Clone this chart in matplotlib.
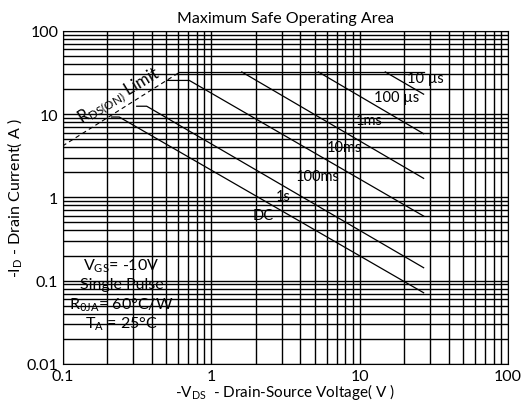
import numpy as np
import matplotlib
matplotlib.use('Agg')
import matplotlib.pyplot as plt

plt.rcParams['font.family'] = ['Lato', 'DejaVu Sans']
plt.rcParams['mathtext.fontset'] = 'custom'
plt.rcParams['mathtext.rm'] = 'Lato'
plt.rcParams['mathtext.it'] = 'Lato:italic'

# SOA curves (V_DS in V, I_D in A)
rds_v = [0.1, 0.612]
rds_i = [4.13, 31.6]

top_v = [0.612, 27]                 # package current limit
top_i = [32, 32]

v_10us = [14.9, 27]
i_10us = [32, 17.3]
v_100us = [5.28, 27]
i_100us = [32, 5.8]
v_1ms = [1.61, 27]
i_1ms = [32, 1.69]
v_10ms = [0.503, 0.714, 27]
i_10ms = [25.3, 25.3, 0.596]
v_100ms = [0.316, 0.369, 27]
i_100ms = [12.4, 12.4, 0.143]
v_dc = [0.214, 0.241, 27]
i_dc = [9.2, 9.2, 0.0716]

curve_labels = ['10 µs', '100 µs', '1ms', '10ms', '100ms', '1s', 'DC']
label_v = [20.8, 12.5, 9.47, 6.01, 3.72, 2.74, 1.91]
label_i = [27.3, 16.0, 8.4, 4.0, 1.80, 1.04, 0.613]

cond_text = [r'V$_{\mathregular{GS}}$= -10V', 'Single Pulse',
             r'R$_{\mathregular{\theta JA}}$= 60°C/W', r'T$_{\mathregular{A}}$ = 25°C']
cond_i = [0.151, 0.0918, 0.0518, 0.0304]

x_ticks = [0.1, 1, 10, 100]
x_labels = ['0.1', '1', '10', '100']
y_ticks = [0.01, 0.1, 1, 10, 100]
y_labels = ['0.01', '0.1', '1', '10', '100']

fig = plt.figure(figsize=(5.27, 4.10), dpi=100)
ax = fig.add_axes([0.1186, 0.1098, 0.8455, 0.8129])
ax.set_xscale('log')
ax.set_yscale('log')
ax.set_xlim(0.1, 100)
ax.set_ylim(0.01, 100)

ax.grid(True, which='both', color='black', linewidth=1.0)
ax.set_axisbelow(True)

ax.plot(rds_v, rds_i, color='black', linewidth=0.8, linestyle=(0, (4, 3)))
for v, i in [(top_v, top_i), (v_10us, i_10us), (v_100us, i_100us), (v_1ms, i_1ms),
             (v_10ms, i_10ms), (v_100ms, i_100ms), (v_dc, i_dc)]:
    ax.plot(v, i, color='black', linewidth=0.9)

for lab, v, i in zip(curve_labels, label_v, label_i):
    ax.text(v, i, lab, fontsize=10.5, ha='left', va='center')

ax.text(0.24, 16.6, r'R$_{\mathregular{DS(ON)}}$ Limit', fontsize=12,
        rotation=31, ha='center', va='center')

for t, i in zip(cond_text, cond_i):
    ax.text(0.25, i, t, fontsize=11.5, ha='center', va='center')

ax.set_xticks(x_ticks)
ax.set_xticklabels(x_labels, fontsize=11.5)
ax.set_yticks(y_ticks)
ax.set_yticklabels(y_labels, fontsize=11.5)
ax.tick_params(axis='x', which='both', length=0, pad=3.5)
ax.tick_params(axis='y', which='both', length=0, pad=3)

ax.set_title('Maximum Safe Operating Area', fontsize=11.5, pad=6)
ax.set_xlabel(r'-V$_{\mathregular{DS}}$  - Drain-Source Voltage( V )', fontsize=11, labelpad=-1)
ax.set_ylabel(r'-I$_{\mathregular{D}}$ - Drain Current( A )', fontsize=11.5, labelpad=2)

fig.savefig('out.png', dpi=100)
plt.close('all')
